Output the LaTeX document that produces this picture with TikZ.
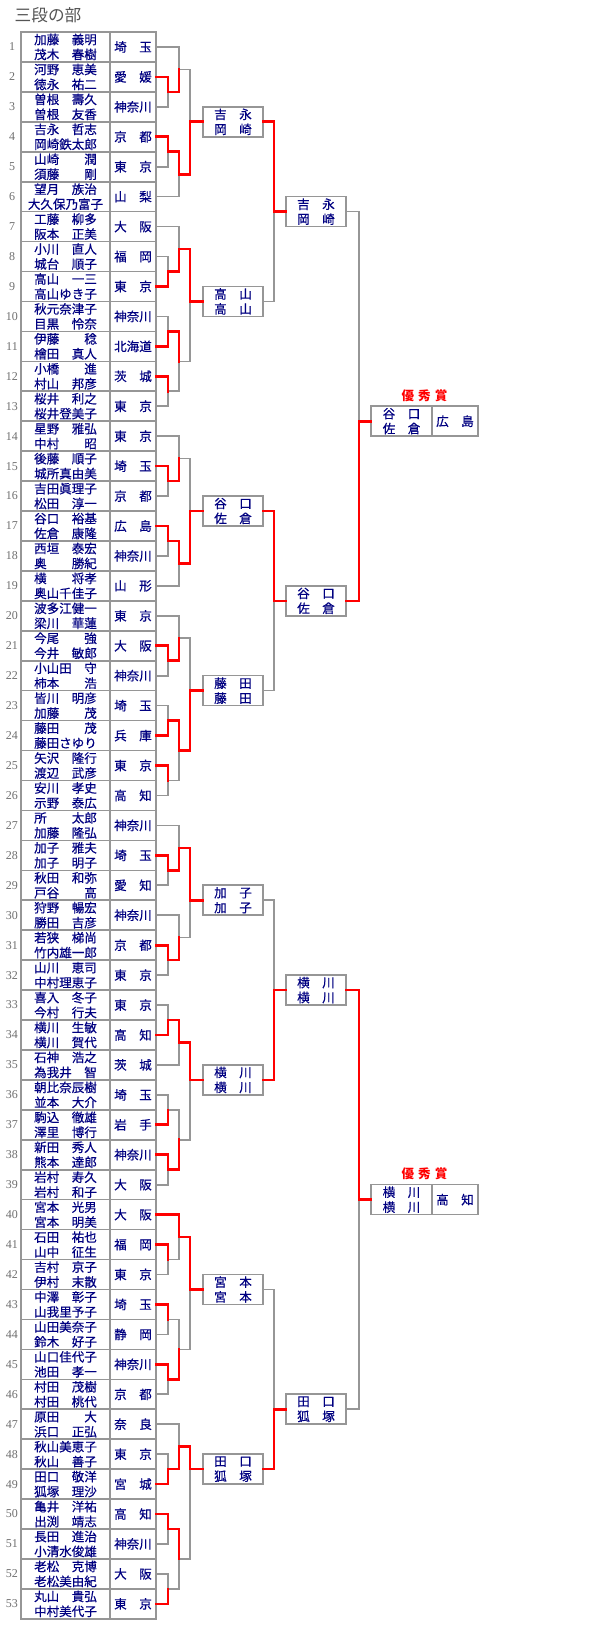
\documentclass[tikz,border=0pt]{standalone}
\usepackage{fontspec}
\setmainfont{Liberation Serif}
\newfontfamily\jpfont{Noto Sans CJK JP}[FakeBold=0.5]
\newfontfamily\jpplain{Noto Sans CJK JP}
\usepackage{tikz}
\usetikzlibrary{calc,backgrounds}
\definecolor{kname}{RGB}{0,0,128}
\definecolor{kline}{RGB}{150,150,150}
\definecolor{kred}{RGB}{255,0,0}
\definecolor{knum}{RGB}{110,110,110}
\definecolor{ktitle}{RGB}{85,85,85}

\newcommand\nm[2]{\makebox[5em]{#1\hfill#2}}
\newcommand\pf[2]{\makebox[3em]{#1\hfill#2}}
\newcommand\rowy[1]{32+(#1-0.5)*29.94}
\newcommand\bndy[1]{32+#1*29.94}
\newcommand\rowent[4]{%
  \node[namecell] (n#1) at (65.5,{\rowy{#1}}) {#2\\#3};
  \node[prefcell] (p#1) at (133,{\rowy{#1}}) {#4};
  \node[numlbl] (k#1) at (12,{\rowy{#1}}) {#1};}
% one game: inputs #1 #2, meeting point #3, winner #4
\newcommand\game[4]{%
  \begin{scope}[on background layer]\draw[bline] (#1) -| (#3) (#2) -| (#3);\end{scope}
  \draw[wline] (#4) -| (#3);}
\newcommand\gm[5]{%
  \coordinate (#1h) at ($(#2)!.5!(#3)$);
  \coordinate (#1) at (#1h -| #4);
  \game{#2}{#3}{#1}{#5}}
\newcommand\gb[6]{%
  \coordinate (#1) at (#6.west -| #4);
  \game{#2}{#3}{#1}{#5}
  \draw[wline] (#1) -- (#6.west);}

\begin{document}
\begin{tikzpicture}[x=0.75pt,y=-0.75pt,
  namecell/.style={draw=kline,line width=1.2pt,minimum width=66.75pt,minimum height=22.45pt,inner sep=0pt,align=center,text=kname,font=\jpfont\fontsize{9.4}{11.2}\selectfont},
  prefcell/.style={namecell,minimum width=34.5pt},
  winbox/.style={namecell,minimum width=45pt,minimum height=22.5pt},
  prefbox/.style={namecell,minimum width=34.5pt,minimum height=22.5pt},
  numlbl/.style={text=knum,font=\fontsize{9}{10}\selectfont},
  prize/.style={text=kred,font=\jpplain\bfseries\fontsize{9.4}{11}\selectfont},
  bline/.style={draw=kline,line width=1.2pt},
  wline/.style={draw=kred,line width=2pt,line cap=rect}]
  \useasboundingbox (0,0) rectangle (600,1630);
  \node[text=ktitle,font=\jpplain\fontsize{12.5}{14}\selectfont,anchor=west] (title) at (10,15) {三段の部};

  \coordinate (L1) at (168,0); \coordinate (L2) at (179,0); \coordinate (L3) at (190,0);
  \coordinate (L4) at (274,0); \coordinate (L5) at (359,0);

  \rowent{1}{\nm{加藤}{義明}}{\nm{茂木}{春樹}}{\pf{埼}{玉}}
  \rowent{2}{\nm{河野}{恵美}}{\nm{徳永}{祐二}}{\pf{愛}{媛}}
  \rowent{3}{\nm{曽根}{壽久}}{\nm{曽根}{友香}}{\pf{神奈川}{}}
  \rowent{4}{\nm{吉永}{哲志}}{\nm{岡崎鉄太郎}{}}{\pf{京}{都}}
  \rowent{5}{\nm{山崎}{潤}}{\nm{須藤}{剛}}{\pf{東}{京}}
  \rowent{6}{\nm{望月}{族治}}{\nm{大久保乃富子}{}}{\pf{山}{梨}}
  \rowent{7}{\nm{工藤}{柳多}}{\nm{阪本}{正美}}{\pf{大}{阪}}
  \rowent{8}{\nm{小川}{直人}}{\nm{城台}{順子}}{\pf{福}{岡}}
  \rowent{9}{\nm{高山}{一三}}{\nm{高山ゆき子}{}}{\pf{東}{京}}
  \rowent{10}{\nm{秋元奈津子}{}}{\nm{目黒}{怜奈}}{\pf{神奈川}{}}
  \rowent{11}{\nm{伊藤}{稔}}{\nm{檜田}{真人}}{\pf{北海道}{}}
  \rowent{12}{\nm{小橋}{進}}{\nm{村山}{邦彦}}{\pf{茨}{城}}
  \rowent{13}{\nm{桜井}{利之}}{\nm{桜井登美子}{}}{\pf{東}{京}}
  \rowent{14}{\nm{星野}{雅弘}}{\nm{中村}{昭}}{\pf{東}{京}}
  \rowent{15}{\nm{後藤}{順子}}{\nm{城所真由美}{}}{\pf{埼}{玉}}
  \rowent{16}{\nm{吉田眞理子}{}}{\nm{松田}{淳一}}{\pf{京}{都}}
  \rowent{17}{\nm{谷口}{裕基}}{\nm{佐倉}{康隆}}{\pf{広}{島}}
  \rowent{18}{\nm{西垣}{泰宏}}{\nm{奥}{勝紀}}{\pf{神奈川}{}}
  \rowent{19}{\nm{横}{将孝}}{\nm{奥山千佳子}{}}{\pf{山}{形}}
  \rowent{20}{\nm{波多江健一}{}}{\nm{梁川}{華蓮}}{\pf{東}{京}}
  \rowent{21}{\nm{今尾}{強}}{\nm{今井}{敏郎}}{\pf{大}{阪}}
  \rowent{22}{\nm{小山田}{守}}{\nm{柿本}{浩}}{\pf{神奈川}{}}
  \rowent{23}{\nm{皆川}{明彦}}{\nm{加藤}{茂}}{\pf{埼}{玉}}
  \rowent{24}{\nm{藤田}{茂}}{\nm{藤田さゆり}{}}{\pf{兵}{庫}}
  \rowent{25}{\nm{矢沢}{隆行}}{\nm{渡辺}{武彦}}{\pf{東}{京}}
  \rowent{26}{\nm{安川}{孝史}}{\nm{示野}{泰広}}{\pf{高}{知}}
  \rowent{27}{\nm{所}{太郎}}{\nm{加藤}{隆弘}}{\pf{神奈川}{}}
  \rowent{28}{\nm{加子}{雅夫}}{\nm{加子}{明子}}{\pf{埼}{玉}}
  \rowent{29}{\nm{秋田}{和弥}}{\nm{戸谷}{高}}{\pf{愛}{知}}
  \rowent{30}{\nm{狩野}{暢宏}}{\nm{勝田}{吉彦}}{\pf{神奈川}{}}
  \rowent{31}{\nm{若狭}{梯尚}}{\nm{竹内雄一郎}{}}{\pf{京}{都}}
  \rowent{32}{\nm{山川}{恵司}}{\nm{中村理恵子}{}}{\pf{東}{京}}
  \rowent{33}{\nm{喜入}{冬子}}{\nm{今村}{行夫}}{\pf{東}{京}}
  \rowent{34}{\nm{横川}{生敏}}{\nm{横川}{賀代}}{\pf{高}{知}}
  \rowent{35}{\nm{石神}{浩之}}{\nm{為我井}{智}}{\pf{茨}{城}}
  \rowent{36}{\nm{朝比奈辰樹}{}}{\nm{並本}{大介}}{\pf{埼}{玉}}
  \rowent{37}{\nm{駒込}{徹雄}}{\nm{澤里}{博行}}{\pf{岩}{手}}
  \rowent{38}{\nm{新田}{秀人}}{\nm{熊本}{達郎}}{\pf{神奈川}{}}
  \rowent{39}{\nm{岩村}{寿久}}{\nm{岩村}{和子}}{\pf{大}{阪}}
  \rowent{40}{\nm{宮本}{光男}}{\nm{宮本}{明美}}{\pf{大}{阪}}
  \rowent{41}{\nm{石田}{祐也}}{\nm{山中}{征生}}{\pf{福}{岡}}
  \rowent{42}{\nm{吉村}{京子}}{\nm{伊村}{末散}}{\pf{東}{京}}
  \rowent{43}{\nm{中澤}{彰子}}{\nm{山我里予子}{}}{\pf{埼}{玉}}
  \rowent{44}{\nm{山田美奈子}{}}{\nm{鈴木}{好子}}{\pf{静}{岡}}
  \rowent{45}{\nm{山口佳代子}{}}{\nm{池田}{孝一}}{\pf{神奈川}{}}
  \rowent{46}{\nm{村田}{茂樹}}{\nm{村田}{桃代}}{\pf{京}{都}}
  \rowent{47}{\nm{原田}{大}}{\nm{浜口}{正弘}}{\pf{奈}{良}}
  \rowent{48}{\nm{秋山美恵子}{}}{\nm{秋山}{善子}}{\pf{東}{京}}
  \rowent{49}{\nm{田口}{敬洋}}{\nm{狐塚}{理沙}}{\pf{宮}{城}}
  \rowent{50}{\nm{亀井}{洋祐}}{\nm{出渕}{靖志}}{\pf{高}{知}}
  \rowent{51}{\nm{長田}{進治}}{\nm{小清水俊雄}{}}{\pf{神奈川}{}}
  \rowent{52}{\nm{老松}{克博}}{\nm{老松美由紀}{}}{\pf{大}{阪}}
  \rowent{53}{\nm{丸山}{貴弘}}{\nm{中村美代子}{}}{\pf{東}{京}}

  % block winners
  \node[winbox] (q1) at (233,{\bndy{3}}) {\pf{吉}{永}\\\pf{岡}{崎}};
  \node[winbox] (q2) at (233,{\bndy{9}}) {\pf{高}{山}\\\pf{高}{山}};
  \node[winbox] (q3) at (233,{\bndy{16}}) {\pf{谷}{口}\\\pf{佐}{倉}};
  \node[winbox] (q4) at (233,{\bndy{22}}) {\pf{藤}{田}\\\pf{藤}{田}};
  \node[winbox] (q5) at (233,{\bndy{29}}) {\pf{加}{子}\\\pf{加}{子}};
  \node[winbox] (q6) at (233,{\bndy{35}}) {\pf{横}{川}\\\pf{横}{川}};
  \node[winbox] (q7) at (233,{\bndy{42}}) {\pf{宮}{本}\\\pf{宮}{本}};
  \node[winbox] (q8) at (233,{\bndy{48}}) {\pf{田}{口}\\\pf{狐}{塚}};
  \node[winbox] (r1) at (316,{\bndy{6}}) {\pf{吉}{永}\\\pf{岡}{崎}};
  \node[winbox] (r2) at (316,{\bndy{19}}) {\pf{谷}{口}\\\pf{佐}{倉}};
  \node[winbox] (r3) at (316,{\bndy{32}}) {\pf{横}{川}\\\pf{横}{川}};
  \node[winbox] (r4) at (316,{\bndy{46}}) {\pf{田}{口}\\\pf{狐}{塚}};
  \node[winbox,minimum width=45.75pt] (s1n) at (401.5,{\bndy{13}}) {\pf{谷}{口}\\\pf{佐}{倉}};
  \node[prefbox] (s1p) at (455,{\bndy{13}}) {\pf{広}{島}};
  \node[winbox,minimum width=45.75pt] (s2n) at (401.5,{\bndy{39}}) {\pf{横}{川}\\\pf{横}{川}};
  \node[prefbox] (s2p) at (455,{\bndy{39}}) {\pf{高}{知}};
  \node[prize] (a1) at (424.5,396) {優\hspace{3pt}秀\hspace{3pt}賞};
  \node[prize] (a2) at (424.5,1173.5) {優\hspace{3pt}秀\hspace{3pt}賞};

  % block 1
  \gm{c2x3}{p2.east}{p3.east}{L1}{p2.east}
  \gm{t1}{p1.east}{c2x3}{L2}{c2x3}
  \gm{c4x5}{p4.east}{p5.east}{L1}{p4.east}
  \gm{u1}{c4x5}{p6.east}{L2}{c4x5}
  \gb{f1}{t1}{u1}{L3}{u1}{q1}
  % block 2
  \gm{c8x9}{p8.east}{p9.east}{L1}{p9.east}
  \gm{t2}{p7.east}{c8x9}{L2}{c8x9}
  \gm{c10x11}{p10.east}{p11.east}{L1}{p11.east}
  \gm{c12x13}{p12.east}{p13.east}{L1}{p12.east}
  \gm{u2}{c10x11}{c12x13}{L2}{c10x11}
  \gb{f2}{t2}{u2}{L3}{t2}{q2}
  % block 3
  \gm{c15x16}{p15.east}{p16.east}{L1}{p15.east}
  \gm{t3}{p14.east}{c15x16}{L2}{c15x16}
  \gm{c17x18}{p17.east}{p18.east}{L1}{p17.east}
  \gm{u3}{c17x18}{p19.east}{L2}{c17x18}
  \gb{f3}{t3}{u3}{L3}{u3}{q3}
  % block 4
  \gm{c21x22}{p21.east}{p22.east}{L1}{p21.east}
  \gm{t4}{p20.east}{c21x22}{L2}{c21x22}
  \gm{c23x24}{p23.east}{p24.east}{L1}{p24.east}
  \gm{c25x26}{p25.east}{p26.east}{L1}{p25.east}
  \gm{u4}{c23x24}{c25x26}{L2}{c23x24}
  \gb{f4}{t4}{u4}{L3}{u4}{q4}
  % block 5
  \gm{c28x29}{p28.east}{p29.east}{L1}{p28.east}
  \gm{t5}{p27.east}{c28x29}{L2}{c28x29}
  \gm{c31x32}{p31.east}{p32.east}{L1}{p31.east}
  \gm{u5}{p30.east}{c31x32}{L2}{c31x32}
  \gb{f5}{t5}{u5}{L3}{t5}{q5}
  % block 6
  \gm{c33x34}{p33.east}{p34.east}{L1}{p34.east}
  \gm{t6}{c33x34}{p35.east}{L2}{c33x34}
  \gm{c36x37}{p36.east}{p37.east}{L1}{p37.east}
  \gm{c38x39}{p38.east}{p39.east}{L1}{p38.east}
  \gm{u6}{c36x37}{c38x39}{L2}{c38x39}
  \gb{f6}{t6}{u6}{L3}{t6}{q6}
  % block 7
  \gm{c41x42}{p41.east}{p42.east}{L1}{p41.east}
  \gm{t7}{p40.east}{c41x42}{L2}{p40.east}
  \gm{c43x44}{p43.east}{p44.east}{L1}{p43.east}
  \gm{c45x46}{p45.east}{p46.east}{L1}{p45.east}
  \gm{u7}{c43x44}{c45x46}{L2}{c45x46}
  \gb{f7}{t7}{u7}{L3}{t7}{q7}
  % block 8
  \gm{c48x49}{p48.east}{p49.east}{L1}{p49.east}
  \gm{t8}{p47.east}{c48x49}{L2}{c48x49}
  \gm{c50x51}{p50.east}{p51.east}{L1}{p50.east}
  \gm{c52x53}{p52.east}{p53.east}{L1}{p53.east}
  \gm{u8}{c50x51}{c52x53}{L2}{c50x51}
  \gb{f8}{t8}{u8}{L3}{t8}{q8}
  % later rounds
  \gb{g1}{q1.east}{q2.east}{L4}{q1.east}{r1}
  \gb{g2}{q3.east}{q4.east}{L4}{q3.east}{r2}
  \gb{g3}{q5.east}{q6.east}{L4}{q6.east}{r3}
  \gb{g4}{q7.east}{q8.east}{L4}{q8.east}{r4}
  \gb{h1}{r1.east}{r2.east}{L5}{r2.east}{s1n}
  \gb{h2}{r3.east}{r4.east}{L5}{r3.east}{s2n}
\end{tikzpicture}
\end{document}
